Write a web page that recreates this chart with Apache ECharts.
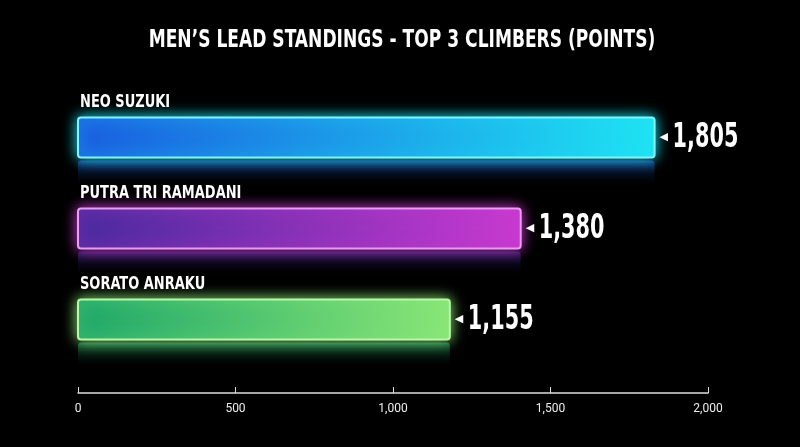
<!DOCTYPE html>
<html><head><meta charset="utf-8">
<script src="https://cdn.jsdelivr.net/npm/echarts@6/dist/echarts.min.js"></script>
<style>html,body{margin:0;background:#000}#c{width:800px;height:447px}</style>
</head><body><div id="c"></div>
<script>
const climbers = ['NEO SUZUKI', 'PUTRA TRI RAMADANI', 'SORATO ANRAKU'];
const points = [1805, 1380, 1155];
const xTicks = [0, 500, 1000, 1500, 2000];
const colorsFrom = ['#1a5fe0', '#4a2a9e', '#1fa86a'];
const colorsTo = ['#1fe3f2', '#c83ad0', '#8ae677'];
const borders = ['#7ff4ff', '#e99cf2', '#b8f7a8'];
const FONT = '"Liberation Sans Narrow","DejaVu Sans Condensed",sans-serif';
const chart = echarts.init(document.getElementById('c'));
chart.setOption({
  backgroundColor: '#000',
  graphic: [{type: 'text', x: 402, y: 40, scaleX: 0.76,
    style: {text: 'MEN’S LEAD STANDINGS - TOP 3 CLIMBERS (POINTS)', fill: '#fff', font: 'bold 25px ' + FONT,
      textAlign: 'center', textVerticalAlign: 'middle'}}],
  grid: {left: 78, right: 92, top: 92, bottom: 82},
  xAxis: {type: 'value', min: 0, max: 2000, interval: 500, offset: 28,
    axisLine: {show: true, lineStyle: {color: '#ddd', width: 1.5}},
    axisTick: {show: true, inside: true, length: 6, lineStyle: {color: '#ddd'}},
    splitLine: {show: false},
    axisLabel: {color: '#eee', fontSize: 12, fontFamily: 'Roboto', margin: 10,
      formatter: v => v.toLocaleString('en-US')}},
  yAxis: {type: 'category', data: climbers, inverse: true, show: false},
  series: [{
    type: 'custom',
    data: points.map((v, i) => [v, i]),
    encode: {x: 0, y: 1},
    renderItem: (params, api) => {
      const i = api.value(1), v = api.value(0);
      const p0 = api.coord([0, i]), p1 = api.coord([v, i]);
      const h = 40, x0 = p0[0], x1 = p1[0] + 8, yc = p0[1];
      const top = yc - h / 2;
      const grad = new echarts.graphic.LinearGradient(0, 0, 1, 0, [{offset: 0, color: colorsFrom[i]}, {offset: 1, color: colorsTo[i]}]);
      const refl = new echarts.graphic.LinearGradient(0, 0, 0, 1, [{offset: 0, color: echarts.color.modifyAlpha(colorsFrom[i], 0.6)}, {offset: 1, color: 'rgba(0,0,0,0)'}]);
      return {type: 'group', children: [
        {type: 'rect', shape: {x: x0, y: top + h + 3, width: x1 - x0, height: 26, r: 3},
          style: {fill: refl}},
        {type: 'rect', shape: {x: x0, y: top, width: x1 - x0, height: h, r: 3},
          style: {fill: grad, stroke: borders[i], lineWidth: 2, shadowBlur: 14, shadowColor: colorsTo[i]}},
        {type: 'text', x: x0 + 2, y: top - 6, scaleX: 0.85,
          style: {text: climbers[i], fill: '#fff', font: 'bold 17px ' + FONT, textVerticalAlign: 'bottom'}},
        {type: 'text', x: x1 + 5, y: yc,
          style: {text: '◀', fill: '#fff', font: '11px "DejaVu Sans"', textVerticalAlign: 'middle'}},
        {type: 'text', x: x1 + 18, y: yc + 1, scaleX: 0.68,
          style: {text: v.toLocaleString('en-US'), fill: '#fff', font: 'bold 34px ' + FONT, textVerticalAlign: 'middle'}}
      ]};
    }
  }]
});
</script></body></html>
